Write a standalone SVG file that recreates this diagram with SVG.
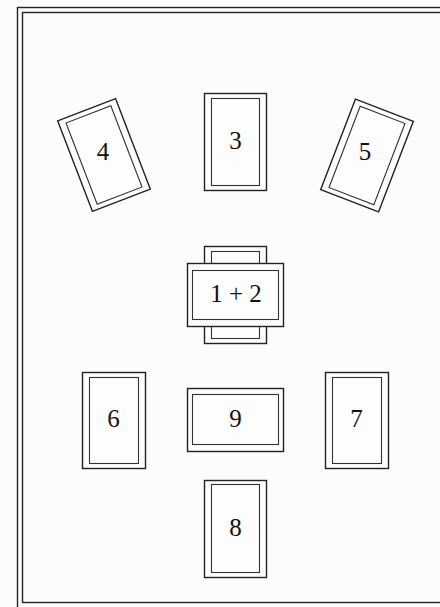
<svg xmlns="http://www.w3.org/2000/svg" width="440" height="607" viewBox="0 0 440 607">
  <style>
    .o { fill: #fdfdfd; stroke: #222; stroke-width: 1.4; }
    .i { fill: #fdfdfd; stroke: #333; stroke-width: 1.1; }
    .f { fill: none; stroke: #222; stroke-width: 1.4; }
    .t { font-family: "Liberation Serif", "Times New Roman", serif; font-size: 25px; fill: #111; text-anchor: middle; }
  </style>
  <rect x="0" y="0" width="440" height="607" fill="#fcfcfc"/>
  <g id="frame">
    <rect class="f" x="17.5" y="7.5" width="440" height="610"/>
    <rect class="f" x="22.5" y="12.5" width="430" height="590"/>
  </g>
  <g id="card4" transform="translate(104 155) rotate(-21)">
    <rect class="o" x="-31" y="-48.5" width="62" height="97"/>
    <rect class="i" x="-24" y="-43.5" width="48" height="87"/>
  </g>
  <text class="t" x="103" y="160">4</text>
  <g id="card3">
    <rect class="o" x="204.5" y="93.5" width="62" height="97"/>
    <rect class="i" x="211.5" y="98.5" width="48" height="87"/>
    <text class="t" x="235.5" y="148.5">3</text>
  </g>
  <g id="card5" transform="translate(367 155.5) rotate(21)">
    <rect class="o" x="-31" y="-48.5" width="62" height="97"/>
    <rect class="i" x="-24" y="-43.5" width="48" height="87"/>
  </g>
  <text class="t" x="365" y="160">5</text>
  <g id="card1">
    <rect class="o" x="204.5" y="246.5" width="62" height="97"/>
    <rect class="i" x="211.5" y="251.5" width="48" height="87"/>
  </g>
  <g id="card2">
    <rect class="o" x="187.5" y="263.5" width="96" height="63"/>
    <rect class="i" x="192.5" y="270.5" width="86" height="49"/>
    <text class="t" x="236" y="302">1 + 2</text>
  </g>
  <g id="card6">
    <rect class="o" x="82.5" y="372.5" width="63" height="96"/>
    <rect class="i" x="89.5" y="377.5" width="49" height="86"/>
    <text class="t" x="113.5" y="427">6</text>
  </g>
  <g id="card9">
    <rect class="o" x="187.5" y="388.5" width="96" height="63"/>
    <rect class="i" x="192.5" y="394.5" width="86" height="50"/>
    <text class="t" x="235.5" y="427">9</text>
  </g>
  <g id="card7">
    <rect class="o" x="325.5" y="372.5" width="63" height="96"/>
    <rect class="i" x="332.5" y="377.5" width="49" height="86"/>
    <text class="t" x="356.5" y="427">7</text>
  </g>
  <g id="card8">
    <rect class="o" x="204.5" y="480.5" width="62" height="97"/>
    <rect class="i" x="211.5" y="484.5" width="48" height="88"/>
    <text class="t" x="235.5" y="536">8</text>
  </g>
</svg>
